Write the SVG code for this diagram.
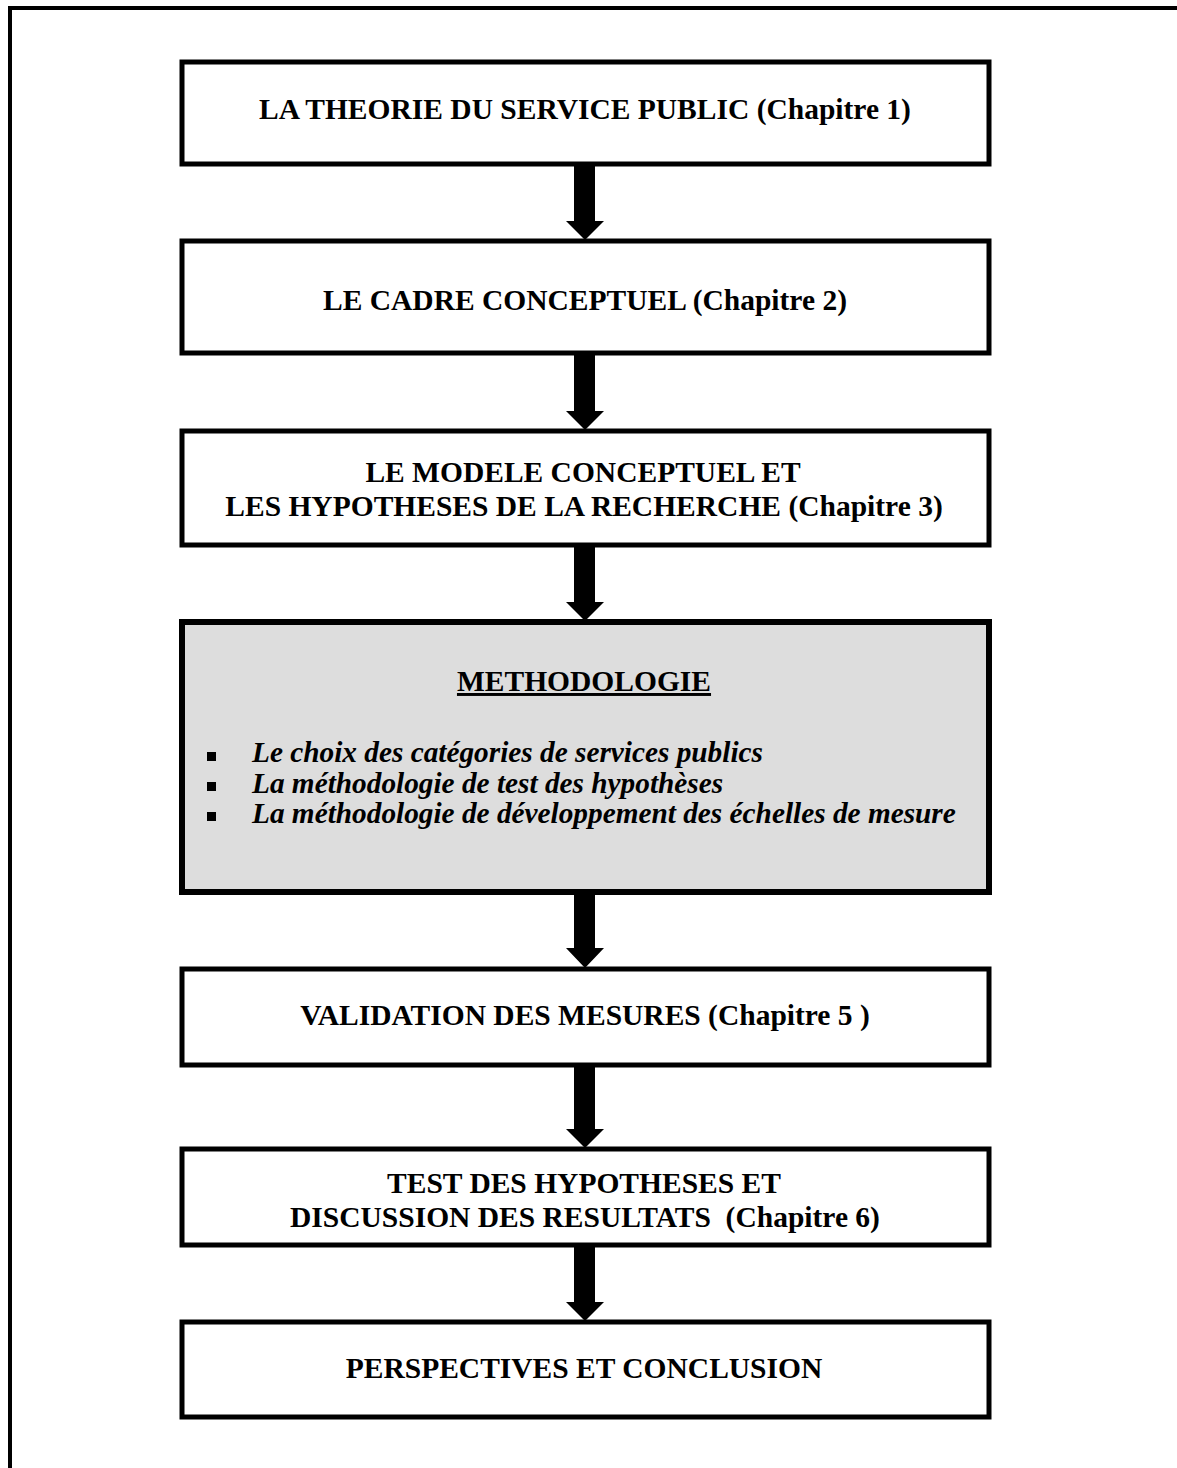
<svg xmlns="http://www.w3.org/2000/svg" width="1177" height="1468" viewBox="0 0 1177 1468">
<style>
.box{fill:#fff;stroke:#000;stroke-width:5}
.gray{fill:#dddddd;stroke:#000;stroke-width:6}
.t{font-family:"Liberation Serif","Times New Roman",serif;font-weight:bold;font-size:29.5px;fill:#000;text-anchor:middle}
.it{font-family:"Liberation Serif","Times New Roman",serif;font-weight:bold;font-style:italic;font-size:29.3px;fill:#000}
.arr{fill:#000}
</style>
<path d="M10 1468 V8 H1177" fill="none" stroke="#000" stroke-width="4"/>
<g id="n1"><rect class="box" x="182" y="62" width="807" height="102"/><text class="t" x="585" y="119">LA THEORIE DU SERVICE PUBLIC (Chapitre 1)</text></g>
<g id="n2"><rect class="box" x="182" y="241" width="807" height="112"/><text class="t" x="585" y="310">LE CADRE CONCEPTUEL (Chapitre 2)</text></g>
<g id="n3"><rect class="box" x="182" y="431" width="807" height="114"/><text class="t" x="583" y="482">LE MODELE CONCEPTUEL ET</text><text class="t" x="584" y="516">LES HYPOTHESES DE LA RECHERCHE (Chapitre 3)</text></g>
<g id="n4"><rect class="gray" x="182" y="622" width="807" height="270"/>
<text class="t" x="584" y="691" text-decoration="underline">METHODOLOGIE</text>
<rect x="207" y="752" width="9" height="9"/><rect x="207" y="782" width="9" height="9"/><rect x="207" y="812" width="9" height="9"/>
<text class="it" x="252" y="762">Le choix des catégories de services publics</text>
<text class="it" x="252" y="793">La méthodologie de test des hypothèses</text>
<text class="it" x="252" y="823">La méthodologie de développement des échelles de mesure</text>
</g>
<g id="n5"><rect class="box" x="182" y="969" width="807" height="96"/><text class="t" x="585" y="1025">VALIDATION DES MESURES (Chapitre 5 )</text></g>
<g id="n6"><rect class="box" x="182" y="1149" width="807" height="96"/><text class="t" x="584" y="1193">TEST DES HYPOTHESES ET</text><text class="t" x="585" y="1227" xml:space="preserve">DISCUSSION DES RESULTATS  (Chapitre 6)</text></g>
<g id="n7"><rect class="box" x="182" y="1322" width="807" height="95"/><text class="t" x="584" y="1378">PERSPECTIVES ET CONCLUSION</text></g>
<g id="connectors" class="arr">
<path d="M574 166 H595 V221 H604 L585 240 L566 221 H574 Z"/>
<path d="M574 355 H595 V411 H604 L585 430 L566 411 H574 Z"/>
<path d="M574 547 H595 V602 H604 L585 621 L566 602 H574 Z"/>
<path d="M574 895 H595 V948 H604 L585 968 L566 948 H574 Z"/>
<path d="M574 1067 H595 V1129 H604 L585 1148 L566 1129 H574 Z"/>
<path d="M574 1247 H595 V1302 H604 L585 1321 L566 1302 H574 Z"/>
</g>
</svg>
